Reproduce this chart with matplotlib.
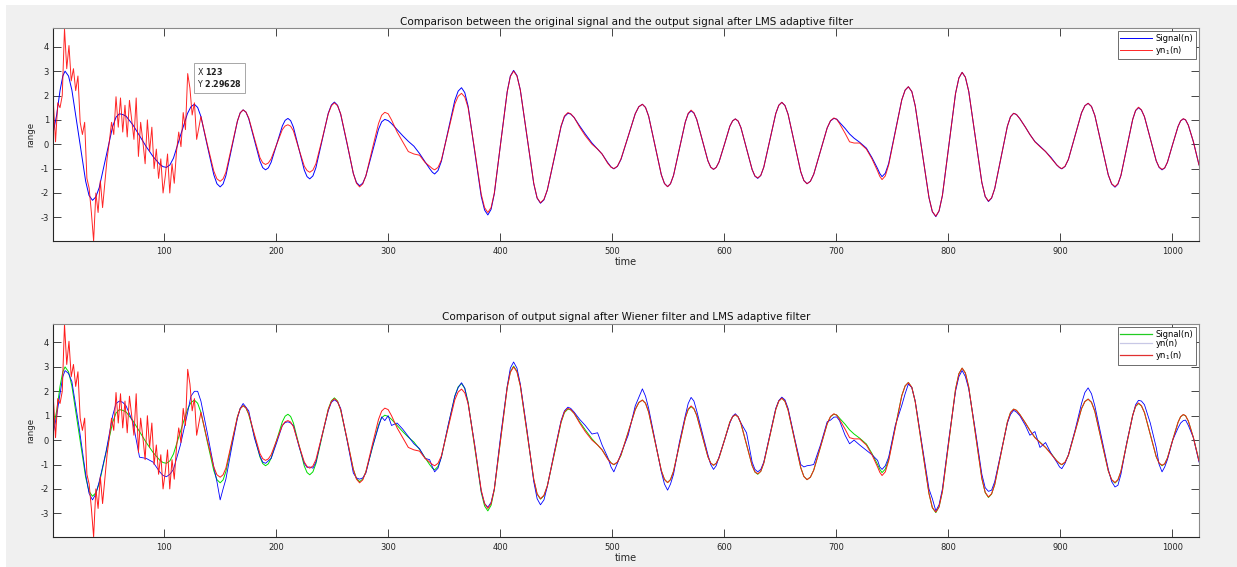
import matplotlib
matplotlib.use('Agg')
import matplotlib.pyplot as plt
from matplotlib.lines import Line2D
from matplotlib.patches import Rectangle

plt.rcParams['font.family'] = ['DejaVu Sans']
plt.rcParams['mathtext.fontset'] = 'dejavusans'
plt.rcParams['axes.unicode_minus'] = False

# --- sample positions (one line per half cycle) ---
t_sig = [1, 4, 7, 9.5, 11.5,
         14.6, 17.6, 23.8, 29.9, 32.9, 36,
         39, 42, 48, 54, 57, 60,
         63, 66, 72, 78, 84, 90, 96, 99, 102,
         105.1, 108.3, 114.5, 120.8, 123.9, 127,
         129.9, 132.8, 138.5, 144.3, 147.1, 150,
         152.6, 155.1, 160.3, 165.4, 167.9, 170.5,
         173, 175.5, 180.5, 185.5, 188, 190.5,
         193, 195.5, 200.5, 205.5, 208, 210.5,
         212.9, 215.4, 220.3, 225.1, 227.6, 230,
         232.8, 235.5, 241, 246.5, 249.3, 252,
         254.8, 257.6, 263.3, 268.9, 271.7, 274.5,
         277.3, 280.1, 285.8, 291.4, 294.2, 297,
         300, 303, 308, 313, 318, 323, 328, 333, 337, 339.5, 341.5,
         344.5, 347.5, 353.5, 359.5, 362.5, 365.5,
         368.4, 371.4, 377.3, 383.1, 386.1, 389,
         391.9, 394.8, 400.5, 406.3, 409.1, 412,
         415, 418, 424, 430, 433, 436,
         439.1, 442.1, 448.3, 454.4, 457.4, 460.5,
         463, 466, 471, 476, 482, 487, 491, 496, 499, 501.5,
         504.7, 507.9, 514.3, 520.6, 523.8, 527,
         529.8, 532.6, 538.3, 543.9, 546.7, 549.5,
         552.1, 554.8, 560, 565.3, 567.9, 570.5,
         573, 575.5, 580.5, 585.5, 588, 590.5,
         592.9, 595.4, 600.3, 605.1, 607.6, 610,
         612.5, 615, 620, 625, 627.5, 630,
         632.7, 635.4, 640.8, 646.1, 648.8, 651.5,
         654.3, 657.1, 662.8, 668.4, 671.2, 674,
         677, 680, 686, 692, 695, 698,
         700.5, 703, 708, 712, 716, 721, 727, 732, 737, 739, 741,
         743.9, 746.9, 752.8, 758.6, 761.6, 764.5,
         767.6, 770.6, 776.8, 782.9, 785.9, 789,
         791.9, 794.9, 800.8, 806.6, 809.6, 812.5,
         815.4, 818.4, 824.3, 830.1, 833.1, 836,
         838.8, 841.6, 847.3, 852.9, 855.7, 858.5,
         861, 864, 869, 873, 877.5, 882, 887, 892, 897, 899.5, 901.5,
         904.4, 907.4, 913.3, 919.1, 922.1, 925,
         928, 931, 937, 943, 946, 949,
         951.6, 954.3, 959.5, 964.8, 967.4, 970,
         972.6, 975.3, 980.5, 985.8, 988.4, 991,
         993.4, 995.8, 1000.5, 1005.3, 1007.6, 1010,
         1012, 1014.5, 1019, 1024]

# original signal, Signal(n)
sig = [0.5, 1.2, 2.2, 2.8, 3.0,
       2.80, 2.22, 0.35, -1.52, -2.10, -2.3,
       -2.16, -1.78, -0.53, 0.73, 1.11, 1.25,
       1.22, 1.15, 0.8, 0.35, -0.1, -0.5, -0.82, -0.92, -0.95,
       -0.85, -0.57, 0.35, 1.26, 1.54, 1.64,
       1.51, 1.14, -0.06, -1.25, -1.62, -1.75,
       -1.63, -1.29, -0.17, 0.95, 1.29, 1.41,
       1.32, 1.05, 0.18, -0.69, -0.96, -1.05,
       -0.97, -0.74, 0.0, 0.75, 0.98, 1.06,
       0.97, 0.70, -0.18, -1.06, -1.33, -1.42,
       -1.30, -0.96, 0.16, 1.27, 1.61, 1.73,
       1.60, 1.23, 0.02, -1.20, -1.57, -1.70,
       -1.60, -1.30, -0.34, 0.62, 0.92, 1.02,
       0.97, 0.85, 0.6, 0.35, 0.12, -0.08, -0.38, -0.72, -1.0, -1.15, -1.22,
       -1.08, -0.70, 0.55, 1.80, 2.18, 2.32,
       2.12, 1.56, -0.29, -2.14, -2.70, -2.90,
       -2.67, -2.03, 0.07, 2.16, 2.80, 3.03,
       2.82, 2.23, 0.31, -1.62, -2.21, -2.42,
       -2.28, -1.88, -0.58, 0.73, 1.13, 1.27,
       1.24, 1.1, 0.75, 0.42, 0.05, -0.2, -0.4, -0.75, -0.93, -1.01,
       -0.91, -0.62, 0.32, 1.25, 1.54, 1.64,
       1.51, 1.15, -0.05, -1.25, -1.61, -1.74,
       -1.62, -1.28, -0.19, 0.91, 1.25, 1.37,
       1.28, 1.02, 0.17, -0.68, -0.94, -1.03,
       -0.95, -0.73, 0.0, 0.74, 0.96, 1.04,
       0.95, 0.68, -0.18, -1.04, -1.31, -1.40,
       -1.28, -0.94, 0.16, 1.26, 1.60, 1.72,
       1.59, 1.23, 0.05, -1.13, -1.49, -1.62,
       -1.52, -1.23, -0.28, 0.67, 0.96, 1.06,
       1.03, 0.9, 0.65, 0.42, 0.25, 0.08, -0.16, -0.55, -1.0, -1.2, -1.33,
       -1.19, -0.79, 0.52, 1.82, 2.22, 2.36,
       2.16, 1.58, -0.31, -2.19, -2.77, -2.97,
       -2.74, -2.10, -0.01, 2.08, 2.72, 2.95,
       2.75, 2.17, 0.3, -1.57, -2.15, -2.35,
       -2.21, -1.82, -0.54, 0.74, 1.13, 1.27,
       1.22, 1.05, 0.7, 0.4, 0.11, -0.08, -0.3, -0.55, -0.85, -0.96, -1.01,
       -0.91, -0.62, 0.34, 1.29, 1.58, 1.68,
       1.55, 1.18, -0.04, -1.26, -1.63, -1.76,
       -1.64, -1.28, -0.13, 1.02, 1.38, 1.50,
       1.40, 1.13, 0.23, -0.68, -0.95, -1.05,
       -0.97, -0.74, 0.0, 0.73, 0.96, 1.04,
       1.0, 0.78, 0.1, -0.85]

# Wiener filter output, yn(n)
yn = [0.3, 1.0, 1.9, 2.6, 2.85,
      2.73, 2.4, 0.6, -1.4, -2.18, -2.45,
      -2.2, -1.7, -0.5, 1.0, 1.5, 1.6,
      1.55, 1.4, 0.75, -0.7, -0.75, -0.9, -1.3, -1.45, -1.5,
      -1.4, -1.2, -0.2, 1.1, 1.8, 2.0,
      2.0, 1.6, 0.3, -1.1, -1.7, -2.45,
      -2.0, -1.6, -0.3, 0.9, 1.3, 1.5,
      1.35, 1.2, 0.1, -0.65, -0.9, -0.95,
      -0.85, -0.75, -0.1, 0.6, 0.72, 0.75,
      0.7, 0.6, -0.25, -0.95, -1.12, -1.1,
      -1.15, -0.9, 0.2, 1.2, 1.55, 1.65,
      1.56, 1.3, 0.0, -1.35, -1.55, -1.6,
      -1.55, -1.35, -0.3, 0.55, 0.95, 0.8,
      1.0, 0.6, 0.7, 0.45, 0.15, -0.15, -0.35, -0.75, -0.8, -1.1, -1.3,
      -1.15, -0.7, 0.6, 1.8, 2.15, 2.35,
      2.13, 1.5, -0.2, -2.1, -2.6, -2.75,
      -2.55, -2.0, 0.2, 2.2, 2.95, 3.2,
      2.95, 2.3, 0.4, -1.7, -2.4, -2.65,
      -2.45, -1.9, -0.5, 0.8, 1.2, 1.35,
      1.3, 1.15, 0.85, 0.6, 0.25, 0.3, -0.2, -0.7, -1.1, -1.3,
      -0.95, -0.55, 0.2, 1.4, 1.75, 2.1,
      1.8, 1.3, 0.0, -1.3, -1.8, -2.05,
      -1.8, -1.4, -0.1, 1.0, 1.5, 1.75,
      1.6, 1.2, 0.3, -0.6, -1.0, -1.2,
      -1.05, -0.7, 0.0, 0.7, 0.98, 1.08,
      0.95, 0.7, 0.3, -0.9, -1.2, -1.3,
      -1.2, -0.9, 0.2, 1.3, 1.62, 1.76,
      1.65, 1.3, 0.1, -1.0, -1.1, -1.05,
      -1.03, -1.0, -0.2, 0.75, 0.82, 0.94,
      0.95, 0.8, 0.2, -0.15, 0.0, -0.2, -0.42, -0.6, -0.83, -1.1, -1.2,
      -1.05, -0.7, 0.6, 1.42, 1.9, 2.3,
      2.15, 1.6, -0.2, -2.0, -2.4, -2.9,
      -2.65, -2.0, 0.1, 2.0, 2.6, 2.85,
      2.6, 2.1, 0.4, -1.4, -1.95, -2.1,
      -2.05, -1.7, -0.5, 0.7, 1.05, 1.22,
      1.15, 1.0, 0.6, 0.2, 0.35, -0.3, -0.1, -0.55, -0.9, -1.1, -1.17,
      -0.95, -0.6, 0.4, 1.5, 1.95, 2.14,
      1.9, 1.4, 0.1, -1.2, -1.7, -1.92,
      -1.85, -1.4, -0.1, 1.0, 1.45, 1.63,
      1.6, 1.45, 0.7, -0.3, -1.0, -1.3,
      -1.1, -0.8, 0.0, 0.5, 0.7, 0.8,
      0.82, 0.6, 0.1, -0.9]

# LMS output, yn_1(n): noisy start while the filter converges ...
t_lms_start = list(range(1, 130, 2))
lms_start = [1.75, 0.1, 1.7, 1.5, 2.0, 4.75, 3.1, 4.05, 2.6, 3.1,
             2.2, 2.8, 0.9, 0.4, 0.9, -1.4, -1.8, -2.8, -3.97, -2.0,
             -2.8, -1.5, -2.6, -1.6, -0.6, 0.1, 0.9, 0.4, 1.95, 0.7,
             1.9, 0.5, 1.6, 0.3, 1.8, 1.0, 0.2, 1.9, -0.5, 0.9,
             0.1, -0.8, 1.0, -0.3, 0.7, -1.0, -0.2, -1.4, -0.6, -2.0,
             -1.3, -0.4, -2.0, -0.8, -1.6, -0.3, 0.5, -0.1, 1.3, 0.6,
             2.9, 2.3, 1.2, 1.7, 0.2]
# ... then tracking the signal (same positions as t_sig from 132.8 on)
lms_tail = [1.14, 0.0, -1.1, -1.42, -1.52,
            -1.42, -1.15, -0.1, 0.95, 1.29, 1.41,
            1.32, 1.08, 0.25, -0.55, -0.76, -0.83,
            -0.77, -0.6, 0.0, 0.6, 0.75, 0.8,
            0.74, 0.55, -0.2, -0.9, -1.08, -1.15,
            -1.06, -0.8, 0.2, 1.25, 1.58, 1.70,
            1.58, 1.25, 0.05, -1.2, -1.6, -1.75,
            -1.63, -1.3, -0.2, 0.85, 1.19, 1.31,
            1.25, 1.0, 0.5, 0.1, -0.3, -0.4, -0.45, -0.75, -0.9, -1.0, -1.05,
            -0.95, -0.65, 0.5, 1.65, 1.97, 2.09,
            1.94, 1.5, -0.25, -2.05, -2.6, -2.8,
            -2.6, -2.0, 0.07, 2.15, 2.78, 3.0,
            2.8, 2.23, 0.3, -1.6, -2.2, -2.4,
            -2.26, -1.88, -0.55, 0.75, 1.16, 1.3,
            1.25, 1.1, 0.7, 0.35, 0.0, -0.2, -0.4, -0.78, -0.94, -1.0,
            -0.9, -0.6, 0.32, 1.25, 1.54, 1.64,
            1.51, 1.15, -0.05, -1.25, -1.61, -1.74,
            -1.62, -1.28, -0.19, 0.91, 1.27, 1.4,
            1.29, 1.02, 0.17, -0.68, -0.94, -1.03,
            -0.95, -0.73, 0.0, 0.74, 0.96, 1.04,
            0.95, 0.68, -0.18, -1.04, -1.3, -1.38,
            -1.28, -0.94, 0.16, 1.26, 1.60, 1.72,
            1.59, 1.23, 0.05, -1.13, -1.49, -1.62,
            -1.52, -1.23, -0.28, 0.67, 0.97, 1.08,
            1.02, 0.85, 0.45, 0.1, 0.05, 0.05, -0.2, -0.6, -1.1, -1.32, -1.45,
            -1.3, -0.85, 0.5, 1.82, 2.22, 2.36,
            2.16, 1.58, -0.31, -2.19, -2.76, -2.95,
            -2.73, -2.10, -0.01, 2.08, 2.72, 2.95,
            2.75, 2.17, 0.3, -1.57, -2.14, -2.33,
            -2.2, -1.82, -0.54, 0.74, 1.13, 1.27,
            1.22, 1.05, 0.7, 0.4, 0.1, -0.1, -0.3, -0.58, -0.85, -0.95, -1.0,
            -0.9, -0.62, 0.34, 1.29, 1.58, 1.68,
            1.55, 1.18, -0.04, -1.26, -1.62, -1.74,
            -1.62, -1.28, -0.13, 1.02, 1.39, 1.52,
            1.41, 1.13, 0.23, -0.68, -0.94, -1.03,
            -0.97, -0.74, 0.0, 0.73, 0.96, 1.05,
            1.0, 0.78, 0.1, -0.85]

tip_x, tip_y = 123, 2.29628

titles = ['Comparison between the original signal and the output signal after LMS adaptive filter',
          'Comparison of output signal after Wiener filter and LMS adaptive filter']

i0 = t_sig.index(132.8)
t_lms = t_lms_start + t_sig[i0:]
lms = lms_start + lms_tail

W, H = 1237, 567
fig = plt.figure(figsize=(W / 100, H / 100), dpi=100, facecolor='white')
fig.patches.append(Rectangle((6 / W, 0), 1, 1 - 5 / H, transform=fig.transFigure,
                             facecolor='#f0f0f0', edgecolor='none', zorder=-10))

ax1 = fig.add_axes([53.3 / W, 1 - 241 / H, (1199 - 53.3) / W, 213 / H])
ax2 = fig.add_axes([53.3 / W, 1 - 537 / H, (1199 - 53.3) / W, 213.3 / H])

ax1.plot(t_sig, sig, color='#0000ff', lw=0.7, label='Signal(n)')
ax1.plot(t_lms, lms, color='#ff0000', lw=0.7, alpha=0.85, label='yn$_1$(n)')

ax2.plot(t_sig, sig, color='#00dd00', lw=0.7)
ax2.plot(t_sig, yn, color='#0000ff', lw=0.6)
ax2.plot(t_lms, lms, color='#ff1a1a', lw=0.7)

for ax, title in zip([ax1, ax2], titles):
    ax.set_facecolor('white')
    ax.set_xlim(1, 1024)
    ax.set_ylim(-3.97, 4.77)
    ax.set_xticks(range(100, 1001, 100))
    ax.set_yticks(range(-3, 5))
    ax.tick_params(direction='in', length=6, width=0.6, top=True, right=True,
                   labelsize=6, colors='#262626')
    ax.tick_params(axis='x', pad=4)
    ax.tick_params(axis='y', pad=3)
    for side, s in ax.spines.items():
        s.set_linewidth(0.8)
        s.set_color('#262626' if side in ('left', 'bottom') else '#8a8a8a')
    ax.set_xlabel('time', fontsize=7, color='#262626', labelpad=1)
    ax.set_ylabel('range', fontsize=6.2, color='#262626', labelpad=4)
    ax.set_title(title, fontsize=7.5, color='#111111', pad=2.5)

leg_kw = dict(loc='upper right', fontsize=6, frameon=True, fancybox=False,
              framealpha=1, edgecolor='#555555', handlelength=3.8,
              borderpad=0.3, labelspacing=0.1, handletextpad=0.4,
              borderaxespad=0.4)
leg1 = ax1.legend(**leg_kw)
leg1.get_frame().set_linewidth(0.6)

handles2 = [Line2D([], [], color='#22cc22', lw=0.9),
            Line2D([], [], color='#c8c8e6', lw=0.9),
            Line2D([], [], color='#e03030', lw=0.9)]
leg2 = ax2.legend(handles2, ['Signal(n)', 'yn(n)', 'yn$_1$(n)'], **leg_kw)
leg2.get_frame().set_linewidth(0.6)

# MATLAB style data tip
ax1.annotate('X $\\mathbf{%d}$\nY $\\mathbf{%.5f}$' % (tip_x, tip_y), xy=(tip_x, tip_y),
             xytext=(5, 16), textcoords='offset points', ha='left', va='top',
             fontsize=5.8, color='#222222', linespacing=1.15,
             bbox=dict(boxstyle='square,pad=0.4', fc='white', ec='#999999', lw=0.6))

fig.savefig('out.png', dpi=100, facecolor=fig.get_facecolor())
